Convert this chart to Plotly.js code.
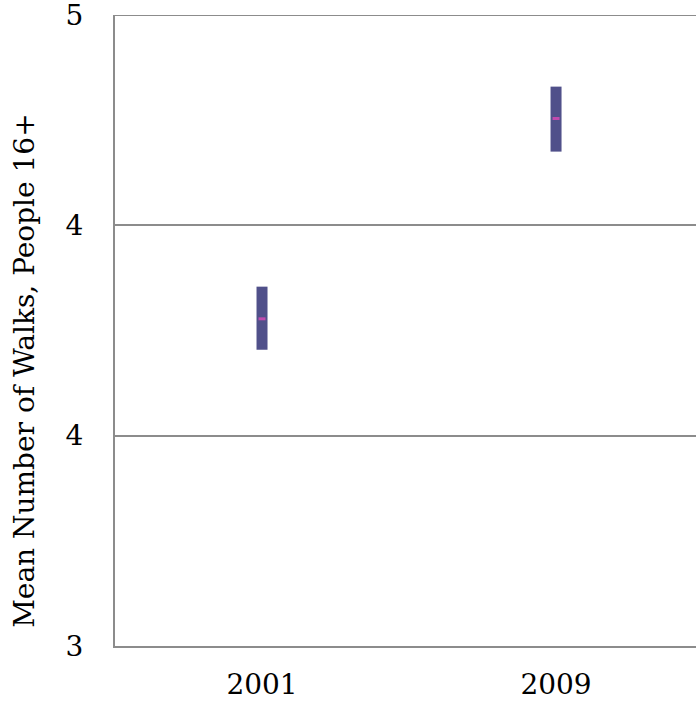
<!DOCTYPE html>
<html>
<head>
<meta charset="utf-8">
<script src="https://cdn.plot.ly/plotly-3.0.1.min.js"></script>
<style>html,body{margin:0;padding:0;background:#fff;}#chart{width:696px;height:711px;}</style>
</head>
<body>
<div id="chart"></div>
<script>
const years = ["2001", "2009"];
const means = [4.037, 4.672];
const upper = [4.139, 4.773];
const lower = [3.939, 4.567];
const yTickVals = [3, 3.6667, 4.3333, 5];
const yTickText = ["3", "4", "4", "5"];
const yTitle = "Mean Number of Walks, People 16+";

const errPlus = means.map((m, i) => upper[i] - m);
const errMinus = means.map((m, i) => m - lower[i]);
const yTop = Math.max(...yTickVals);

const font = "DejaVu Serif, Liberation Serif, serif";

const trace = {
  type: "scatter",
  mode: "markers",
  x: years,
  y: means,
  error_y: {
    type: "data",
    array: errPlus,
    arrayminus: errMinus,
    symmetric: false,
    color: "#50508a",
    thickness: 11,
    width: 0
  },
  marker: {
    symbol: "line-ew-open",
    size: 5,
    color: "#c04aae",
    line: {color: "#c04aae", width: 3}
  },
  hoverinfo: "none"
};

const layout = {
  width: 696,
  height: 711,
  margin: {l: 115, r: 0, t: 15, b: 65},
  paper_bgcolor: "#ffffff",
  plot_bgcolor: "#ffffff",
  showlegend: false,
  font: {family: font, size: 28, color: "#000"},
  xaxis: {
    type: "category",
    range: [-0.5, 1.476],
    showgrid: false,
    zeroline: false,
    showline: true,
    linecolor: "#8c8c8c",
    linewidth: 2,
    ticks: "",
    ticklabelstandoff: 12,
    tickfont: {family: font, size: 28, color: "#000"}
  },
  yaxis: {
    range: [3, 5],
    tickmode: "array",
    tickvals: yTickVals,
    ticktext: yTickText,
    showgrid: true,
    gridcolor: "#8c8c8c",
    gridwidth: 2,
    zeroline: false,
    showline: true,
    linecolor: "#8c8c8c",
    linewidth: 2,
    ticks: "",
    ticklabelstandoff: 24,
    ticklabeloverflow: "allow",
    tickfont: {family: font, size: 28, color: "#000"}
  },
  shapes: [{
    type: "line",
    xref: "paper",
    yref: "y",
    x0: 0,
    x1: 1,
    y0: yTop,
    y1: yTop,
    line: {color: "#8c8c8c", width: 2},
    layer: "below"
  }],
  annotations: [{
    text: yTitle,
    xref: "paper",
    yref: "paper",
    x: -0.155,
    y: 0.436,
    xanchor: "center",
    yanchor: "middle",
    textangle: -90,
    showarrow: false,
    font: {family: font, size: 28, color: "#000"}
  }]
};

Plotly.newPlot("chart", [trace], layout, {displayModeBar: false, staticPlot: true});
</script>
</body>
</html>
